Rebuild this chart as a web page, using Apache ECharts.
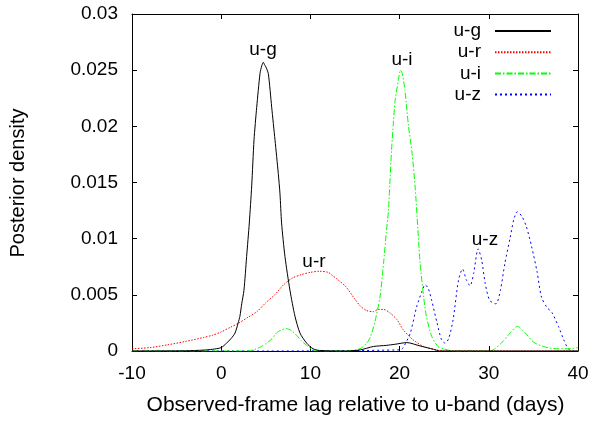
<!DOCTYPE html>
<html>
<head>
<meta charset="utf-8">
<script src="https://cdn.jsdelivr.net/npm/echarts@6/dist/echarts.min.js"></script>
<style>
  html, body { margin: 0; padding: 0; background: #fff; }
  #chart { width: 594px; height: 421px; }
</style>
</head>
<body>
<div id="chart"></div>
<script>
// Posterior lag distributions, relative to the u band
const ugLag = [-10, -4, -2, -1, 0, 0.6, 1.1, 1.55, 1.9, 2.1, 2.3, 2.55, 2.85, 3.15, 3.42, 3.68, 3.98, 4.35, 4.55, 4.72, 4.85, 5.0, 5.28, 5.66, 6.03, 6.4, 6.59, 6.77, 7.15, 7.71, 8.27, 8.83, 9.58, 10.3, 11, 14, 15.6, 17.05, 18.5, 19.5, 20.8, 22.3, 23.8, 24.5, 30, 40];
const ugDensity = [0, 0.00002, 0.00008, 0.00015, 0.0003, 0.0007, 0.0011, 0.0016, 0.0025, 0.0031, 0.0042, 0.0054, 0.0084, 0.0114, 0.0147, 0.0188, 0.0217, 0.0247, 0.0254, 0.0257, 0.0255, 0.0253, 0.0247, 0.0217, 0.0188, 0.0158, 0.0140, 0.0114, 0.0084, 0.0054, 0.0031, 0.0016, 0.0007, 0.0002, 0.00005, 0, 0.0001, 0.0004, 0.0005, 0.0006, 0.00075, 0.00045, 0.00015, 0, 0, 0];

const urLag = [-10, -8, -6, -4, -2, -1, 0, 1, 2, 3, 4, 5, 6, 7, 8, 9, 10, 11, 12, 12.5, 13, 14, 15, 15.6, 16.3, 17.05, 17.6, 18.2, 18.9, 19.7, 20.4, 21.5, 22.7, 24.1, 25, 40];
const urDensity = [0.0002, 0.0003, 0.00055, 0.00085, 0.0012, 0.0014, 0.0017, 0.0021, 0.0025, 0.003, 0.0035, 0.0043, 0.0050, 0.0059, 0.0065, 0.0068, 0.0070, 0.0071, 0.0070, 0.0067, 0.0064, 0.0057, 0.0046, 0.0040, 0.0036, 0.0035, 0.0037, 0.0037, 0.0034, 0.0028, 0.0019, 0.0010, 0.0004, 0.0001, 0, 0];

const uiLag = [-10, 3, 3.6, 4.5, 5.1, 5.7, 6.2, 6.8, 7.3, 7.9, 8.45, 9, 9.58, 10.3, 11, 14, 15.56, 16.3, 16.7, 17.2, 17.8, 18.2, 18.5, 18.75, 18.9, 19.1, 19.3, 19.5, 19.86, 20.1, 20.3, 20.6, 21.0, 21.4, 21.75, 22.05, 22.3, 22.7, 23.0, 23.6, 24.3, 24.9, 26, 30, 30.5, 31.4, 32.4, 33.2, 34.1, 35.0, 36.1, 37.6, 39, 40];
const uiDensity = [0, 0, 0.0001, 0.0004, 0.0007, 0.0011, 0.0016, 0.0019, 0.0020, 0.0018, 0.0014, 0.0009, 0.0005, 0.0001, 0, 0, 0.0002, 0.0007, 0.0012, 0.0025, 0.0048, 0.0078, 0.0105, 0.0125, 0.0148, 0.0179, 0.0203, 0.0223, 0.0241, 0.0250, 0.0247, 0.0232, 0.0200, 0.0176, 0.0145, 0.0108, 0.0078, 0.0048, 0.0031, 0.0013, 0.0004, 0.0002, 0, 0, 0.0001, 0.0007, 0.0016, 0.0022, 0.0016, 0.0008, 0.0004, 0.0002, 0.0002, 0.0003];

const uzLag = [-10, 5, 20.05, 20.4, 21.2, 21.9, 22.5, 22.85, 23.2, 23.6, 24.2, 24.7, 25.1, 25.5, 26.0, 26.6, 27.05, 27.5, 27.9, 28.3, 28.8, 29.2, 29.6, 30.1, 30.8, 31.3, 31.8, 32.4, 32.8, 33.2, 33.7, 34.2, 34.8, 35.4, 35.9, 36.5, 37.1, 37.8, 38.4, 38.9, 39.4, 40];
const uzDensity = [0, 0, 0.0001, 0.0003, 0.0016, 0.0039, 0.0053, 0.0059, 0.0056, 0.0045, 0.0025, 0.0010, 0.0007, 0.0011, 0.0028, 0.0063, 0.0073, 0.0063, 0.0058, 0.0069, 0.0091, 0.0081, 0.0060, 0.0045, 0.0042, 0.0054, 0.0078, 0.0101, 0.0117, 0.0124, 0.0120, 0.0111, 0.0093, 0.0071, 0.0048, 0.0039, 0.0034, 0.0022, 0.0010, 0.0002, 0, 0];

const seriesNames = ['u-g', 'u-r', 'u-i', 'u-z'];
const xTicks = [-10, 0, 10, 20, 30, 40];
const yTicks = [0, 0.005, 0.01, 0.015, 0.02, 0.025, 0.03];

// In-plot peak labels, anchored in data coordinates
const peakLabelLag = [4.69, 10.4, 20.27, 29.57];
const peakLabelDensity = [0.0268, 0.0079, 0.0259, 0.0099];

const FONT = 'Liberation Sans';
const FS = 19;

const pairs = (xs, ys) => xs.map((x, i) => [x, ys[i]]);
const curves = [pairs(ugLag, ugDensity), pairs(urLag, urDensity), pairs(uiLag, uiDensity), pairs(uzLag, uzDensity)];
const colors = ['#000000', '#ff0000', '#00ff00', '#0000ff'];
const dashes = ['solid', [1.5, 1.5], [6, 2, 1.5, 2], [2, 3]];

const chart = echarts.init(document.getElementById('chart'), null, { renderer: 'canvas' });

const baseAxis = {
  min: xTicks[0], max: xTicks[xTicks.length - 1], interval: 10, type: 'value',
  axisLine: { show: true, onZero: false, lineStyle: { color: '#000', width: 1 } },
  axisTick: { show: true, inside: true, length: 5, lineStyle: { color: '#000' } },
  splitLine: { show: false }
};
const baseY = {
  min: yTicks[0], max: yTicks[yTicks.length - 1], interval: 0.005, type: 'value',
  axisLine: { show: true, onZero: false, lineStyle: { color: '#000', width: 1 } },
  axisTick: { show: true, inside: true, length: 5, lineStyle: { color: '#000' } },
  splitLine: { show: false }
};

chart.setOption({
  animation: false,
  backgroundColor: '#fff',
  grid: { left: 132, right: 16, top: 14, bottom: 70 },
  xAxis: [
    Object.assign({}, baseAxis, {
      position: 'bottom',
      axisLabel: { color: '#000', fontFamily: FONT, fontSize: FS, margin: 13 }
    }),
    Object.assign({}, baseAxis, { position: 'top', axisLabel: { show: false } })
  ],
  yAxis: [
    Object.assign({}, baseY, {
      position: 'left',
      axisLabel: {
        color: '#000', fontFamily: FONT, fontSize: FS, margin: 14,
        formatter: v => String(parseFloat(v.toFixed(3)))
      }
    }),
    Object.assign({}, baseY, { position: 'right', axisLabel: { show: false } })
  ],
  legend: {
    data: seriesNames,
    orient: 'vertical',
    right: 37, top: 16.5,
    align: 'right',
    itemWidth: 56, itemHeight: 14, itemGap: 2.2,
    itemStyle: { opacity: 0 },
    textStyle: { color: '#000', fontFamily: FONT, fontSize: FS, padding: [0, 9, 0, 0] }
  },
  graphic: [
    {
      type: 'text', x: 355.5, y: 405,
      style: { text: 'Observed-frame lag relative to u-band (days)', fill: '#000', font: '21px "' + FONT + '"', align: 'center', verticalAlign: 'middle' }
    },
    {
      type: 'text', rotation: Math.PI / 2, x: 18, y: 183,
      style: { text: 'Posterior density', fill: '#000', font: '20px "' + FONT + '"', align: 'center', verticalAlign: 'middle' }
    }
  ],
  series: seriesNames.map((name, i) => ({
    name: name,
    type: 'line',
    xAxisIndex: 0, yAxisIndex: 0,
    data: curves[i],
    showSymbol: false, symbol: 'none',
    smooth: 0.25,
    lineStyle: { color: colors[i], width: 1, type: dashes[i] },
    itemStyle: { color: colors[i] },
    z: 10 - i,
    markPoint: {
      symbol: 'circle', symbolSize: 0,
      data: [{ coord: [peakLabelLag[i], peakLabelDensity[i]], value: name }],
      label: {
        show: true, position: 'inside', formatter: name,
        color: '#000', fontFamily: FONT, fontSize: FS
      }
    }
  }))
});
</script>
</body>
</html>
